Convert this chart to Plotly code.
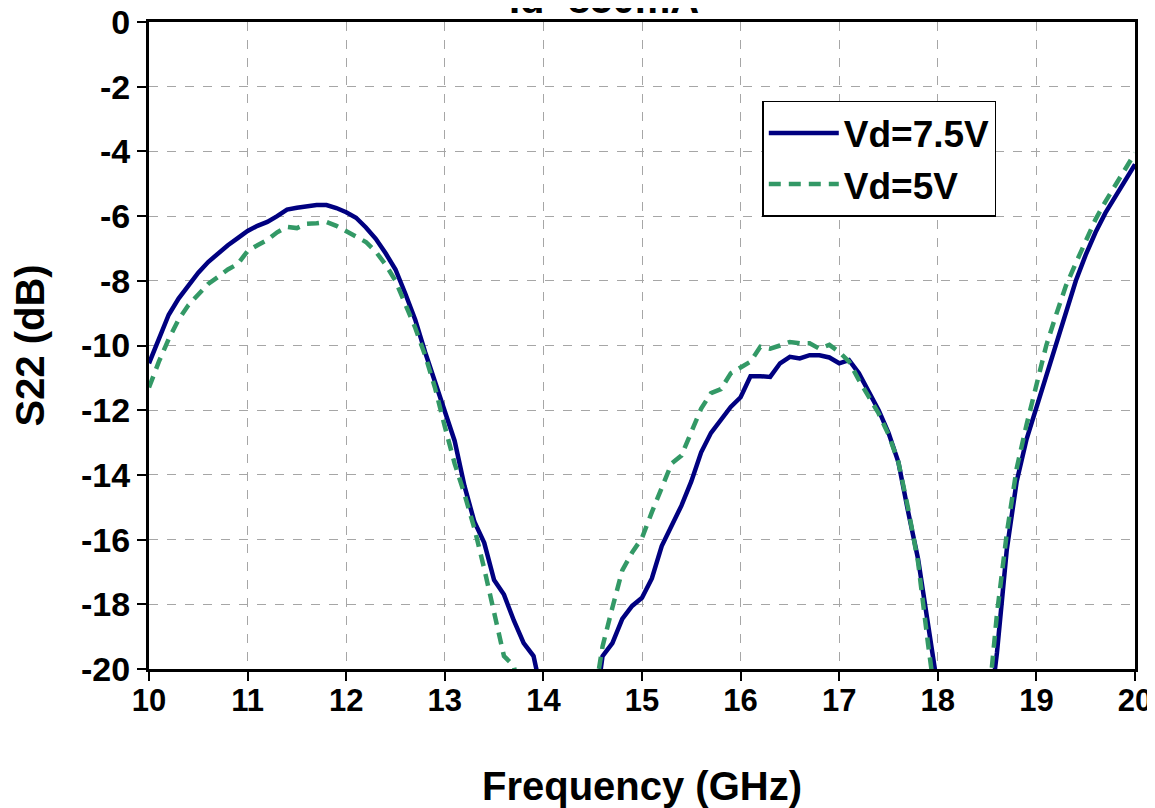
import plotly.graph_objects as go

# Vd = 7.5 V (solid navy)
freq_a = [10.0, 10.1, 10.2, 10.3, 10.4, 10.5, 10.6, 10.7, 10.8, 10.9,
          11.0, 11.1, 11.2, 11.3, 11.4, 11.5, 11.6, 11.7, 11.8, 11.9,
          12.0, 12.1, 12.2, 12.3, 12.4, 12.5, 12.6, 12.7, 12.8, 12.9,
          13.0, 13.1, 13.2, 13.3, 13.4, 13.5, 13.6, 13.7, 13.8, 13.9,
          14.0, 14.5, 14.6, 14.7, 14.8, 14.9,
          15.0, 15.1, 15.2, 15.3, 15.4, 15.5, 15.6, 15.7, 15.8, 15.9,
          16.0, 16.1, 16.2, 16.3, 16.4, 16.5, 16.6, 16.7, 16.8, 16.9,
          17.0, 17.1, 17.2, 17.3, 17.4, 17.5, 17.6, 17.7, 17.8, 17.9,
          18.0, 18.5, 18.6, 18.7, 18.8, 18.9,
          19.0, 19.1, 19.2, 19.3, 19.4, 19.5, 19.6, 19.7, 19.8, 19.9, 20.0]
s22_a = [-10.55, -9.8, -9.05, -8.55, -8.13, -7.75, -7.42, -7.15, -6.9, -6.68,
         -6.46, -6.3, -6.18, -6.0, -5.8, -5.74, -5.7, -5.66, -5.66, -5.75,
         -5.88, -6.05, -6.35, -6.7, -7.15, -7.65, -8.4, -9.2, -10.2, -11.15,
         -12.05, -12.95, -14.35, -15.45, -16.1, -17.25, -17.7, -18.5, -19.2, -19.6,
         -21.0, -21.8, -19.6, -19.2, -18.45, -18.05,
         -17.8, -17.2, -16.2, -15.6, -14.95, -14.2, -13.3, -12.7, -12.3, -11.9,
         -11.6, -10.95, -10.95, -10.97, -10.55, -10.35, -10.4, -10.3, -10.3, -10.37,
         -10.55, -10.45, -10.86, -11.4, -12.0, -12.7, -13.6, -15.15, -16.6, -18.6,
         -20.6, -22.0, -19.5, -16.3, -14.2, -12.9,
         -11.9, -10.9, -9.9, -8.9, -8.0, -7.2, -6.5, -5.9, -5.4, -4.9, -4.4]

# Vd = 5 V (dashed green)
freq_b = [10.0, 10.1, 10.2, 10.3, 10.4, 10.5, 10.6, 10.7, 10.8, 10.9,
          11.0, 11.1, 11.2, 11.3, 11.4, 11.5, 11.6, 11.7, 11.8, 11.9,
          12.0, 12.1, 12.2, 12.3, 12.4, 12.5, 12.6, 12.7, 12.8, 12.9,
          13.0, 13.1, 13.2, 13.3, 13.4, 13.5, 13.6, 13.7, 13.8,
          14.5, 14.6, 14.7, 14.8, 14.9,
          15.0, 15.1, 15.2, 15.3, 15.4, 15.5, 15.6, 15.7, 15.8, 15.9,
          16.0, 16.1, 16.2, 16.3, 16.4, 16.5, 16.6, 16.7, 16.8, 16.9,
          17.0, 17.1, 17.2, 17.3, 17.4, 17.5, 17.6, 17.7, 17.8, 17.9,
          18.0, 18.5, 18.6, 18.7, 18.8, 18.9,
          19.0, 19.1, 19.2, 19.3, 19.4, 19.5, 19.6, 19.7, 19.8, 19.9, 20.0]
s22_b = [-11.3, -10.5, -9.8, -9.2, -8.75, -8.4, -8.1, -7.88, -7.65, -7.48,
         -7.08, -6.9, -6.74, -6.5, -6.33, -6.37, -6.24, -6.22, -6.18, -6.3,
         -6.46, -6.62, -6.8, -7.1, -7.5, -8.0, -8.75, -9.45, -10.3, -11.3,
         -12.5, -13.65, -14.6, -15.65, -16.9, -18.2, -19.6, -19.9, -21.5,
         -21.2, -19.3, -18.1, -16.95, -16.4,
         -15.95, -15.15, -14.4, -13.65, -13.4, -12.65, -11.95, -11.47, -11.35, -10.86,
         -10.66, -10.5, -10.04, -10.1, -10.0, -9.89, -9.93, -9.93, -10.1, -9.98,
         -10.2, -10.5, -11.07, -11.6, -12.1, -12.75, -13.6, -15.05, -16.7, -19.2,
         -21.5, -21.5, -18.3, -15.8, -13.8, -12.45,
         -11.2, -10.0, -9.05, -8.15, -7.45, -6.8, -6.1, -5.55, -5.05, -4.55, -4.05]

x_ticks = [10, 11, 12, 13, 14, 15, 16, 17, 18, 19, 20]
y_ticks = [0, -2, -4, -6, -8, -10, -12, -14, -16, -18, -20]

FONT = "Liberation Sans, Arial, sans-serif"

fig = go.Figure()
fig.add_trace(go.Scatter(x=freq_a, y=s22_a, mode="lines", name="Vd=7.5V",
                         line=dict(color="#000080", width=4.5)))
fig.add_trace(go.Scatter(x=freq_b, y=s22_b, mode="lines", name="Vd=5V",
                         line=dict(color="#339966", width=4.5, dash="12px,8px")))

axis_common = dict(showline=True, linecolor="black", linewidth=3, mirror=True,
                   showgrid=True, gridcolor="#a6a6a6", gridwidth=1, griddash="dash",
                   ticks="outside", ticklen=9, tickwidth=2, tickcolor="black",
                   zeroline=False, ticklabeloverflow="allow")

fig.update_xaxes(range=[10, 20], tickvals=x_ticks, ticktext=[str(v) for v in x_ticks],
                 ticklabelstandoff=-7,
                 tickfont=dict(family=FONT, size=31, color="black", weight="bold"),
                 title=dict(text="Frequency (GHz)", standoff=57,
                            font=dict(family=FONT, size=40, color="black", weight="bold")),
                 **axis_common)
fig.update_yaxes(range=[-20, 0], tickvals=y_ticks, ticktext=[str(v) for v in y_ticks],
                 tickfont=dict(family=FONT, size=34, color="black", weight="bold"),
                 title=dict(text="S22 (dB)", standoff=26,
                            font=dict(family=FONT, size=40, color="black", weight="bold")),
                 **axis_common)

fig.update_layout(
    width=1147, height=800,
    margin=dict(l=141, r=20, t=14, b=139, autoexpand=False),
    paper_bgcolor="white", plot_bgcolor="white",
    showlegend=True,
    legend=dict(x=0.622, y=0.878, xanchor="left", yanchor="top",
                bgcolor="white", bordercolor="black", borderwidth=1.5,
                font=dict(family=FONT, size=37, color="black", weight="bold"),
                tracegroupgap=0, itemwidth=70),
    annotations=[dict(text="Id=850mA", xref="paper", yref="paper",
                      x=0.461, y=0.998, xanchor="center", yanchor="bottom",
                      showarrow=False,
                      font=dict(family=FONT, size=40, color="black", weight="bold"))],
)

fig.write_html("out.html")
